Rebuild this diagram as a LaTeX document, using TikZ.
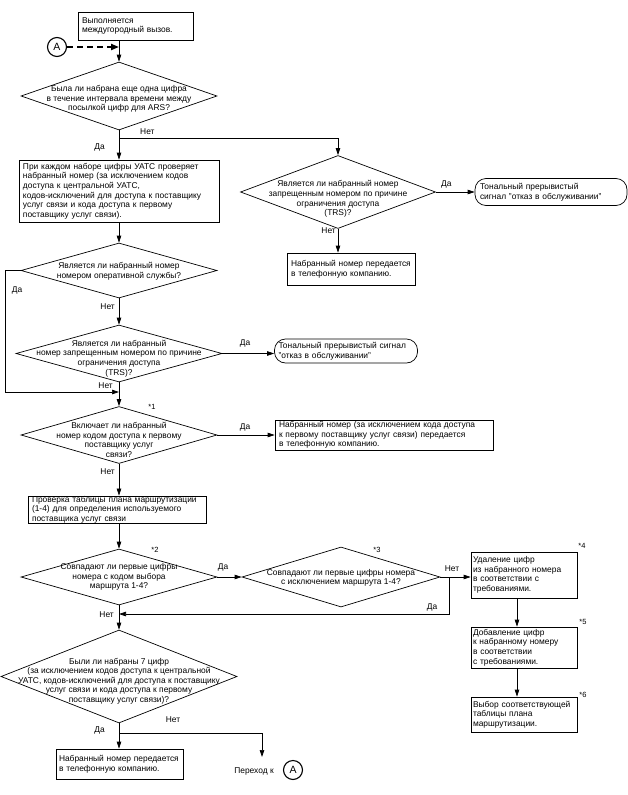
\documentclass[tikz,border=0pt]{standalone}
\usepackage{fontspec}
\setmainfont{Liberation Sans}
\usetikzlibrary{shapes.geometric,arrows.meta}
\begin{document}
\begin{tikzpicture}[x=1pt,y=-1pt,
  every node/.style={font=\fontsize{8.4}{9.6}\selectfont, inner sep=0pt},
  line/.style={line width=0.7pt},
  arr/.style={line width=0.7pt,-{Triangle[length=7pt,width=4.5pt]}},
  dia/.style={diamond, draw, line width=0.7pt, inner sep=0pt},
  box/.style={draw, line width=0.7pt, align=left, inner sep=0pt},
  rbox/.style={draw, line width=0.7pt, rounded corners=11pt, align=left, inner sep=0pt},
  lbl/.style={font=\fontsize{8.4}{9.6}\selectfont},
  star/.style={font=\fontsize{7.5}{9}\selectfont},
  circ/.style={circle, draw, line width=1.1pt, minimum size=19pt, font=\fontsize{10.5}{12}\selectfont}
]
\path[use as bounding box] (0,0) rectangle (628,795);

% top
\node[box, text width=107pt, minimum width=115pt, minimum height=28pt] (start) at (135.5,26) {Выполняется\\междугородный вызов.};
\node[circ] (A1) at (57,47) {A};
\coordinate (j0) at (119,47);
\node[dia, minimum width=196pt, minimum height=68pt] (d1) at (119,96) {};
\node[align=center] (t1) at (119,99) {Была ли набрана еще одна цифра\\в течение интервала времени между\\посылкой цифр для ARS?};
\draw[line] (start.south -| j0) -- (j0);
\draw[arr] (j0) -- (d1.north);
\draw[line width=2pt, dash pattern=on 6pt off 4pt, -{Triangle[length=8pt,width=6pt]}] (A1) -- (j0);

\coordinate (b1) at (119,138);
\draw[line] (d1.south) -- (b1);
\node[box, text width=192pt, minimum width=200pt, minimum height=62pt] (b2) at (119,191) {При каждом наборе цифры УАТС проверяет\\набранный номер (за исключением кодов\\доступа к центральной УАТС,\\кодов-исключений для доступа к поставщику\\услуг связи и кода доступа к первому\\поставщику услуг связи).};
\draw[arr] (b1) -- (b2.north);
\node[lbl, anchor=west] at (140,132) {Нет};
\node[lbl, anchor=east] at (105,147) {Да};

% right column top
\node[dia, minimum width=195pt, minimum height=73pt] (d2) at (338,192) {};
\node[align=center] (t2) at (338,199) {Является ли набранный номер\\запрещенным номером по причине\\ограничения доступа\\(TRS)?};
\draw[arr] (b1) -| (d2.north);
\node[rbox, text width=142pt, minimum width=152pt, minimum height=27pt] (r1) at (551,192) {Тональный прерывистый\\сигнал "отказ в обслуживании"};
\draw[arr] (d2.east) -- (r1.west);
\node[lbl, anchor=west] at (441,184) {Да};
\node[box, text width=120pt, minimum width=128pt, minimum height=32pt] (b3) at (351,269) {Набранный номер передается\\в телефонную компанию.};
\draw[arr] (d2.south) -- (d2.south |- b3.north);
\node[lbl, anchor=east] at (336,231) {Нет};

% emergency
\node[dia, minimum width=196pt, minimum height=55pt] (d3) at (119,270.5) {};
\node[align=center] (t3) at (119,271) {Является ли набранный номер\\номером оперативной службы?};
\draw[arr] (b2.south) -- (d3.north);
\coordinate (j1) at (119,392);
\draw[arr] (d3.west) -- ++(-15,0) |- (j1);
\node[lbl] at (17,290) {Да};
\node[lbl, anchor=east] at (115,307) {Нет};

% TRS 2
\node[dia, minimum width=206pt, minimum height=57pt] (d4) at (119,353.5) {};
\node[align=center] (t4) at (119,358.5) {Является ли набранный\\номер запрещенным номером по причине\\ограничения доступа\\(TRS)?};
\draw[arr] (d3.south) -- (d4.north);
\node[rbox, text width=135pt, minimum width=143pt, minimum height=24pt] (r2) at (346,351) {Тональный прерывистый сигнал\\"отказ в обслуживании"};
\draw[arr] (d4.east) -- (d4.east -| r2.west);
\node[lbl] at (245,343) {Да};
\node[lbl, anchor=east] at (113,386) {Нет};

% first provider
\node[dia, minimum width=196pt, minimum height=57pt] (d5) at (119,435) {};
\node[align=center] (t5) at (119,440) {Включает ли набранный\\номер кодом доступа к первому\\поставщику услуг\\связи?};
\draw[arr] (d4.south) -- (d5.north);
\node[star] at (152,407) {*1};
\node[box, text width=210pt, minimum width=218pt, minimum height=30pt] (b5) at (384,435) {Набранный номер (за исключением кода доступа\\к первому поставщику услуг связи) передается\\в телефонную компанию.};
\draw[arr] (d5.east) -- (b5.west);
\node[lbl] at (245,427) {Да};
\node[box, text width=170pt, minimum width=178pt, minimum height=27pt] (b6) at (117,509.5) {Проверка таблицы плана маршрутизации\\(1-4) для определения используемого\\поставщика услуг связи};
\draw[arr] (d5.south) -- (d5.south |- b6.north);
\node[lbl, anchor=east] at (115,472) {Нет};

% route
\node[dia, minimum width=196pt, minimum height=56pt] (d7) at (119,577) {};
\node[align=center] (t7) at (119,577) {Совпадают ли первые цифры\\номера с кодом выбора\\маршрута 1-4?};
\draw[arr] (b6.south -| d7.north) -- (d7.north);
\node[star] at (155,550) {*2};
\node[dia, minimum width=198pt, minimum height=60pt] (d8) at (341,577) {};
\node[align=center] (t8) at (341,578) {Совпадают ли первые цифры номера\\с исключением маршрута 1-4?};
\node[star] at (377,550) {*3};
\draw[arr] (d7.east) -- (d8.west);
\node[lbl] at (223,567) {Да};
\node[box, text width=102pt, minimum width=106pt, minimum height=46pt] (b9) at (524,575) {Удаление цифр\\из набранного номера\\в соответствии с\\требованиями.};
\draw[arr] (d8.east) -- (d8.east -| b9.west);
\node[lbl] at (452,569) {Нет};
\coordinate (j2) at (449,577);
\coordinate (j3) at (119,614);
\draw[arr] (j2) |- (j3);
\node[lbl] at (432,607) {Да};
\node[star] at (582,546) {*4};
\node[box, text width=102pt, minimum width=106pt, minimum height=41pt] (b11) at (524,647.5) {Добавление цифр\\к набранному номеру\\в соответствии\\с требованиями.};
\node[star] at (583,622) {*5};
\node[box, text width=102pt, minimum width=106pt, minimum height=35pt] (b12) at (524,714.5) {Выбор соответствующей\\таблицы плана\\маршрутизации.};
\node[star] at (583,695) {*6};
\draw[arr] ([xshift=-7pt]b9.south) -- ([xshift=-7pt]b11.north);
\draw[arr] ([xshift=-7pt]b11.south) -- ([xshift=-7pt]b12.north);

% 7 digits
\node[dia, minimum width=236pt, minimum height=93pt] (d10) at (119,676.5) {};
\node[align=center] (t10) at (119,681) {Были ли набраны 7 цифр\\(за исключением кодов доступа к центральной\\УАТС, кодов-исключений для доступа к поставщику\\услуг связи и кода доступа к первому\\поставщику услуг связи)?};
\draw[arr] (d7.south) -- (d10.north);
\node[lbl, anchor=east] at (114,615) {Нет};
\coordinate (b4) at (119,733);
\draw[line] (d10.south) -- (b4);
\node[box, text width=121pt, minimum width=127pt, minimum height=30pt] (b13) at (119.5,764) {Набранный номер передается\\в телефонную компанию.};
\draw[arr] (b4) -- (b4 |- b13.north);
\coordinate (p1) at (262,757);
\draw[arr] (b4) -| (p1);
\node[lbl, anchor=east] at (105,730) {Да};
\node[lbl] at (173,720) {Нет};
\node[lbl] (goto) at (254,771) {Переход к};
\node[circ] (A2) at (293,770) {A};
\end{tikzpicture}
\end{document}
